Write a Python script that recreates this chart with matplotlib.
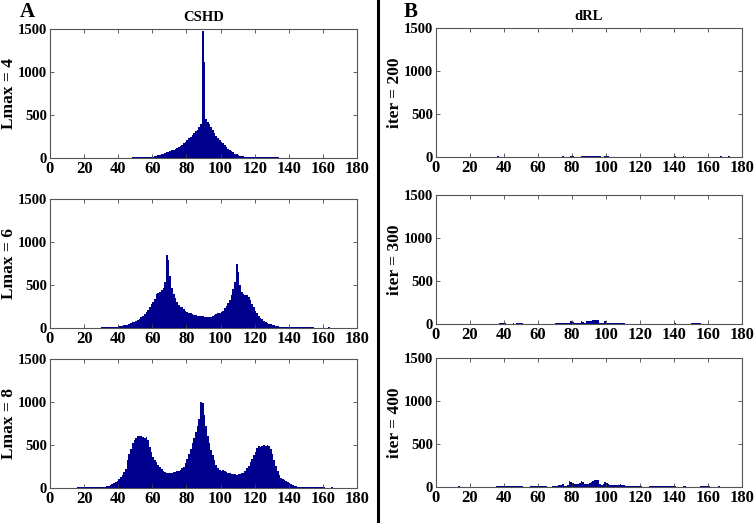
import numpy as np
import matplotlib
matplotlib.use('Agg')
import matplotlib.pyplot as plt
from matplotlib.lines import Line2D

plt.rcParams['font.family'] = ['Liberation Serif', 'DejaVu Serif']
plt.rcParams['font.weight'] = 'bold'

# 1-degree bins from 0 to 180
bin_edges = np.arange(0, 181, 1)

# CSHD, Lmax = 4
cshd_l4 = [
    0, 0, 0, 0, 0, 0, 0, 0, 0, 0,
    0, 0, 0, 0, 0, 0, 0, 0, 0, 0,
    0, 0, 0, 0, 0, 0, 0, 0, 5, 5,
    0, 5, 5, 0, 0, 0, 0, 0, 0, 0,
    5, 5, 5, 5, 5, 5, 5, 5, 8, 8,
    8, 8, 8, 8, 8, 8, 8, 8, 8, 10,
    15, 18, 24, 30, 38, 45, 52, 60, 68, 75,
    82, 90, 98, 108, 118, 128, 140, 155, 170, 190,
    210, 230, 250, 270, 290, 310, 330, 360, 400, 1480,
    1120, 450, 420, 390, 360, 320, 290, 260, 230, 210,
    190, 170, 150, 130, 110, 95, 80, 65, 52, 42,
    35, 28, 22, 18, 15, 12, 10, 9, 8, 7,
    6, 6, 6, 6, 6, 6, 6, 6, 6, 6,
    6, 6, 6, 6, 5, 5, 5, 5, 5, 5,
    0, 5, 0, 4, 0, 4, 0, 4, 0, 0,
    0, 0, 0, 0, 0, 0, 0, 0, 0, 0,
    0, 0, 0, 0, 0, 0, 0, 0, 0, 0,
    0, 0, 0, 0, 0, 0, 0, 0, 0, 0,
]

# CSHD, Lmax = 6
cshd_l6 = [
    0, 0, 0, 0, 0, 0, 0, 0, 0, 0,
    0, 0, 0, 0, 0, 0, 0, 0, 0, 0,
    0, 0, 5, 5, 0, 5, 5, 5, 5, 5,
    8, 8, 8, 8, 8, 10, 10, 12, 12, 15,
    18, 20, 25, 30, 35, 40, 48, 55, 65, 75,
    85, 95, 110, 125, 145, 165, 190, 215, 245, 275,
    300, 340, 390, 410, 420, 440, 470, 530, 850, 790,
    600, 470, 400, 350, 300, 270, 250, 240, 220, 200,
    190, 180, 170, 165, 155, 150, 145, 140, 135, 135,
    130, 128, 125, 125, 130, 140, 155, 165, 170, 175,
    185, 200, 230, 260, 290, 320, 380, 450, 540, 750,
    650, 500, 420, 390, 385, 380, 360, 320, 280, 240,
    200, 170, 140, 120, 100, 85, 70, 60, 50, 42,
    35, 30, 25, 20, 17, 14, 12, 10, 9, 8,
    6, 6, 6, 6, 6, 6, 6, 6, 6, 6,
    6, 6, 6, 6, 6, 5, 0, 5, 0, 5,
    5, 0, 0, 8, 0, 0, 0, 0, 0, 0,
    0, 0, 0, 0, 0, 0, 0, 0, 0, 0,
]

# CSHD, Lmax = 8
cshd_l8 = [
    0, 0, 0, 0, 0, 0, 0, 0, 0, 0,
    0, 0, 0, 5, 5, 5, 8, 8, 8, 8,
    8, 8, 8, 8, 8, 8, 8, 8, 10, 10,
    10, 12, 15, 20, 28, 35, 45, 55, 70, 85,
    100, 125, 150, 185, 220, 330, 400, 450, 520, 560,
    580, 600, 610, 600, 590, 580, 590, 560, 480, 420,
    360, 330, 300, 270, 240, 220, 200, 190, 180, 175,
    170, 175, 185, 190, 195, 200, 210, 230, 250, 290,
    340, 400, 450, 520, 580, 650, 720, 800, 1000, 990,
    850, 720, 600, 520, 440, 380, 320, 270, 230, 210,
    200, 210, 200, 190, 180, 175, 165, 160, 160, 155,
    160, 165, 170, 180, 200, 230, 260, 300, 340, 380,
    420, 460, 490, 480, 490, 500, 490, 500, 490, 450,
    400, 330, 260, 200, 150, 120, 100, 90, 80, 70,
    60, 45, 35, 25, 20, 15, 12, 10, 8, 8,
    12, 6, 6, 6, 6, 6, 6, 6, 6, 6,
    6, 0, 0, 0, 0, 10, 0, 0, 0, 0,
    0, 0, 0, 0, 0, 0, 0, 0, 0, 0,
]

# dRL, iter = 200
drl_200 = [
    0, 0, 0, 0, 0, 0, 0, 0, 0, 0,
    0, 0, 0, 0, 0, 0, 0, 0, 0, 0,
    0, 0, 0, 0, 0, 0, 0, 0, 0, 0,
    0, 0, 0, 0, 0, 0, 8, 0, 0, 0,
    0, 0, 0, 0, 0, 0, 0, 0, 0, 0,
    0, 0, 0, 0, 0, 0, 0, 0, 0, 0,
    0, 0, 0, 0, 0, 0, 0, 0, 0, 0,
    0, 0, 0, 0, 6, 0, 0, 0, 0, 8,
    10, 0, 0, 0, 0, 8, 10, 8, 10, 8,
    10, 8, 10, 12, 10, 8, 10, 0, 0, 8,
    12, 8, 5, 0, 0, 0, 0, 0, 0, 0,
    0, 0, 0, 0, 0, 0, 0, 0, 0, 0,
    0, 0, 0, 0, 0, 5, 0, 0, 0, 0,
    0, 0, 0, 0, 0, 0, 0, 0, 0, 0,
    8, 0, 0, 0, 0, 6, 0, 0, 0, 0,
    0, 0, 0, 0, 0, 0, 0, 0, 0, 0,
    0, 0, 0, 0, 0, 0, 0, 6, 0, 0,
    0, 0, 6, 0, 0, 0, 0, 0, 0, 0,
]

# dRL, iter = 300
drl_300 = [
    0, 0, 0, 0, 0, 0, 0, 0, 0, 0,
    0, 0, 0, 5, 0, 0, 0, 0, 0, 0,
    0, 0, 0, 0, 0, 0, 0, 0, 0, 5,
    0, 0, 0, 0, 0, 0, 0, 8, 8, 8,
    8, 0, 0, 0, 0, 8, 5, 8, 8, 8,
    8, 0, 0, 0, 0, 5, 0, 0, 0, 0,
    0, 0, 0, 0, 0, 5, 0, 0, 0, 0,
    10, 10, 10, 10, 10, 10, 12, 12, 15, 30,
    20, 12, 15, 15, 15, 30, 20, 10, 30, 30,
    30, 30, 45, 50, 50, 50, 15, 10, 10, 30,
    15, 10, 10, 10, 10, 10, 10, 10, 8, 10,
    10, 5, 5, 0, 0, 5, 5, 5, 5, 5,
    5, 0, 0, 0, 0, 5, 0, 0, 0, 0,
    5, 5, 5, 5, 5, 5, 0, 0, 0, 0,
    8, 5, 0, 0, 0, 0, 0, 0, 0, 0,
    8, 8, 8, 8, 8, 8, 0, 0, 0, 0,
    5, 0, 0, 0, 0, 0, 5, 0, 0, 0,
    0, 0, 0, 0, 0, 0, 0, 0, 0, 0,
]

# dRL, iter = 400
drl_400 = [
    0, 0, 0, 0, 0, 0, 0, 0, 0, 0,
    0, 0, 0, 10, 0, 0, 0, 0, 0, 0,
    0, 0, 0, 0, 0, 0, 0, 0, 0, 0,
    0, 0, 0, 0, 0, 10, 10, 10, 8, 10,
    10, 8, 10, 8, 10, 8, 10, 10, 8, 10,
    8, 0, 0, 0, 0, 8, 8, 8, 8, 8,
    8, 8, 8, 8, 8, 0, 0, 0, 8, 8,
    15, 15, 25, 20, 30, 15, 15, 20, 70, 60,
    50, 35, 30, 30, 50, 65, 60, 40, 30, 40,
    50, 60, 75, 80, 80, 80, 30, 25, 40, 55,
    45, 30, 25, 25, 25, 25, 25, 20, 30, 20,
    20, 15, 15, 10, 10, 10, 10, 10, 10, 10,
    8, 0, 0, 0, 0, 8, 8, 8, 8, 8,
    8, 8, 8, 8, 8, 8, 8, 8, 8, 8,
    8, 0, 0, 0, 0, 8, 8, 0, 0, 0,
    0, 0, 0, 0, 0, 8, 8, 8, 8, 8,
    8, 0, 0, 0, 0, 0, 10, 0, 0, 0,
    0, 0, 0, 0, 0, 0, 0, 0, 0, 0,
]

left_labels = ['Lmax = 4', 'Lmax = 6', 'Lmax = 8']
right_labels = ['iter = 200', 'iter = 300', 'iter = 400']
left_data = [cshd_l4, cshd_l6, cshd_l8]
right_data = [drl_200, drl_300, drl_400]

x_ticks = np.arange(0, 181, 20)
y_ticks = [0, 500, 1000, 1500]
bar_color = '#00008F'

W, H = 756, 523
fig = plt.figure(figsize=(W / 100, H / 100), dpi=100)

# pixel boxes: (left, top, right, bottom)
left_boxes = [(50, 29, 357, 158), (50, 199, 357, 328), (50, 359, 357, 488)]
right_boxes = [(436, 28, 742, 157), (436, 195, 742, 324), (436, 358, 742, 487)]


def make_ax(box):
    l, t, r, b = box
    return fig.add_axes([l / W, 1 - b / H, (r - l) / W, (b - t) / H])


def draw_panel(ax, counts, ylabel):
    ax.stairs(counts, bin_edges, fill=True, color=bar_color, linewidth=0)
    ax.set_xlim(0, 180)
    ax.set_ylim(0, 1500)
    ax.set_xticks(x_ticks)
    ax.set_yticks(y_ticks)
    ax.tick_params(direction='in', length=3, width=0.6, top=True, right=True,
                   color='#444444')
    ax.tick_params(axis='x', labelsize=12, pad=2)
    ax.tick_params(axis='y', labelsize=10.5, pad=2)
    for lab in ax.get_xticklabels() + ax.get_yticklabels():
        lab.set_fontweight('bold')
    for s in ax.spines.values():
        s.set_color('#555555')
        s.set_linewidth(0.8)
    ax.set_ylabel(ylabel, fontsize=12.5, fontweight='bold', labelpad=1)


for box, counts, lab in zip(left_boxes, left_data, left_labels):
    ax = make_ax(box)
    draw_panel(ax, counts, lab)
    if box is left_boxes[0]:
        ax.set_title('CSHD', fontsize=10.5, fontweight='bold', pad=6)

for box, counts, lab in zip(right_boxes, right_data, right_labels):
    ax = make_ax(box)
    draw_panel(ax, counts, lab)
    if box is right_boxes[0]:
        ax.set_title('dRL', fontsize=10.5, fontweight='bold', pad=6)

# panel letters and the divider
fig.text(20 / W, 1 - 12 / H, 'A', fontsize=15, fontweight='bold', ha='left', va='center')
fig.text(404 / W, 1 - 12 / H, 'B', fontsize=15, fontweight='bold', ha='left', va='center')
fig.add_artist(Line2D([378 / W, 378 / W], [1 - 521 / H, 1.0], transform=fig.transFigure,
                      color='black', linewidth=2.2))

fig.savefig('out.png', dpi=100)
